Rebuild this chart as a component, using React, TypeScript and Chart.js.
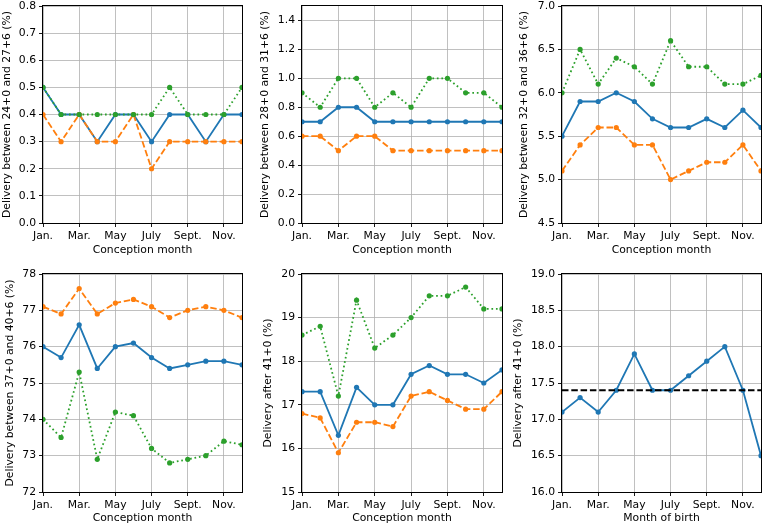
import React, { useEffect, useRef } from 'react';
import { Chart, registerables } from 'chart.js';

Chart.register(...registerables);

// ---------- data ----------
const months = ['Jan', 'Feb', 'Mar', 'Apr', 'May', 'Jun', 'Jul', 'Aug', 'Sep', 'Oct', 'Nov', 'Dec'];
const monthTickLabels = ['Jan.', 'Mar.', 'May', 'July', 'Sept.', 'Nov.'];

const p1Blue = [0.5, 0.4, 0.4, 0.3, 0.4, 0.4, 0.3, 0.4, 0.4, 0.3, 0.4, 0.4];
const p1Orange = [0.4, 0.3, 0.4, 0.3, 0.3, 0.4, 0.2, 0.3, 0.3, 0.3, 0.3, 0.3];
const p1Green = [0.5, 0.4, 0.4, 0.4, 0.4, 0.4, 0.4, 0.5, 0.4, 0.4, 0.4, 0.5];
const p1Ticks = [0.0, 0.1, 0.2, 0.3, 0.4, 0.5, 0.6, 0.7, 0.8];

const p2Blue = [0.7, 0.7, 0.8, 0.8, 0.7, 0.7, 0.7, 0.7, 0.7, 0.7, 0.7, 0.7];
const p2Orange = [0.6, 0.6, 0.5, 0.6, 0.6, 0.5, 0.5, 0.5, 0.5, 0.5, 0.5, 0.5];
const p2Green = [0.9, 0.8, 1.0, 1.0, 0.8, 0.9, 0.8, 1.0, 1.0, 0.9, 0.9, 0.8];
const p2Ticks = [0.0, 0.2, 0.4, 0.6, 0.8, 1.0, 1.2, 1.4];

const p3Blue = [5.5, 5.9, 5.9, 6.0, 5.9, 5.7, 5.6, 5.6, 5.7, 5.6, 5.8, 5.6];
const p3Orange = [5.1, 5.4, 5.6, 5.6, 5.4, 5.4, 5.0, 5.1, 5.2, 5.2, 5.4, 5.1];
const p3Green = [6.0, 6.5, 6.1, 6.4, 6.3, 6.1, 6.6, 6.3, 6.3, 6.1, 6.1, 6.2];
const p3Ticks = [4.5, 5.0, 5.5, 6.0, 6.5, 7.0];

const p4Blue = [76.0, 75.7, 76.6, 75.4, 76.0, 76.1, 75.7, 75.4, 75.5, 75.6, 75.6, 75.5];
const p4Orange = [77.1, 76.9, 77.6, 76.9, 77.2, 77.3, 77.1, 76.8, 77.0, 77.1, 77.0, 76.8];
const p4Green = [74.0, 73.5, 75.3, 72.9, 74.2, 74.1, 73.2, 72.8, 72.9, 73.0, 73.4, 73.3];
const p4Ticks = [72, 73, 74, 75, 76, 77, 78];

const p5Blue = [17.3, 17.3, 16.3, 17.4, 17.0, 17.0, 17.7, 17.9, 17.7, 17.7, 17.5, 17.8];
const p5Orange = [16.8, 16.7, 15.9, 16.6, 16.6, 16.5, 17.2, 17.3, 17.1, 16.9, 16.9, 17.3];
const p5Green = [18.6, 18.8, 17.2, 19.4, 18.3, 18.6, 19.0, 19.5, 19.5, 19.7, 19.2, 19.2];
const p5Ticks = [15, 16, 17, 18, 19, 20];

const p6Blue = [17.1, 17.3, 17.1, 17.4, 17.9, 17.4, 17.4, 17.6, 17.8, 18.0, 17.4, 16.5];
const p6Reference = 17.4;
const p6Ticks = [16.0, 16.5, 17.0, 17.5, 18.0, 18.5, 19.0];

// ---------- styles ----------
const BLUE = '#1f77b4';
const ORANGE = '#ff7f0e';
const GREEN = '#2ca02c';
const GRID = '#b0b0b0';
const FONT_SIZE = 10.8;
const FONT = { family: "'DejaVu Sans', sans-serif", size: FONT_SIZE };
const LH = FONT_SIZE * 1.2;

const AW = 54; // y-axis box width
const PT = 6;
const PR = 4;

const colLeft = [43, 302, 562];
const colWidth = [199, 200, 199];
const rowTop = [6, 274];
const rowHeight = [217, 218];
const rowXH = [40, 34];
const rowXTitleCenter = [27, 26];

type SeriesSpec = { values: number[]; color: string; dash: number[]; points: boolean; width: number; order: number };
type PanelSpec = {
  series: SeriesSpec[];
  yTicks: number[];
  yMin: number;
  yMax: number;
  dec: number;
  yTitle: string;
  xTitle: string;
  row: number;
  col: number;
  yTitleOff: number;
};

const mk = (values: number[], kind: 'blue' | 'orange' | 'green' | 'ref'): SeriesSpec => {
  if (kind === 'blue') return { values, color: BLUE, dash: [], points: true, width: 1.8, order: 2 };
  if (kind === 'orange') return { values, color: ORANGE, dash: [6.5, 2.8], points: true, width: 1.8, order: 1 };
  if (kind === 'green') return { values, color: GREEN, dash: [1.7, 2.8], points: true, width: 1.8, order: 0 };
  return { values, color: '#000', dash: [6.5, 2.8], points: false, width: 1.8, order: -1 };
};

const panels: PanelSpec[] = [
  {
    series: [mk(p1Blue, 'blue'), mk(p1Orange, 'orange'), mk(p1Green, 'green')],
    yTicks: p1Ticks, yMin: 0, yMax: 0.8, dec: 1,
    yTitle: 'Delivery between 24+0 and 27+6 (%)', xTitle: 'Conception month', row: 0, col: 0, yTitleOff: 36,
  },
  {
    series: [mk(p2Blue, 'blue'), mk(p2Orange, 'orange'), mk(p2Green, 'green')],
    yTicks: p2Ticks, yMin: 0, yMax: 1.5, dec: 1,
    yTitle: 'Delivery between 28+0 and 31+6 (%)', xTitle: 'Conception month', row: 0, col: 1, yTitleOff: 37,
  },
  {
    series: [mk(p3Blue, 'blue'), mk(p3Orange, 'orange'), mk(p3Green, 'green')],
    yTicks: p3Ticks, yMin: 4.5, yMax: 7.0, dec: 1,
    yTitle: 'Delivery between 32+0 and 36+6 (%)', xTitle: 'Conception month', row: 0, col: 2, yTitleOff: 38,
  },
  {
    series: [mk(p4Blue, 'blue'), mk(p4Orange, 'orange'), mk(p4Green, 'green')],
    yTicks: p4Ticks, yMin: 72, yMax: 78, dec: 0,
    yTitle: 'Delivery between 37+0 and 40+6 (%)', xTitle: 'Conception month', row: 1, col: 0, yTitleOff: 33,
  },
  {
    series: [mk(p5Blue, 'blue'), mk(p5Orange, 'orange'), mk(p5Green, 'green')],
    yTicks: p5Ticks, yMin: 15, yMax: 20, dec: 0,
    yTitle: 'Delivery after 41+0 (%)', xTitle: 'Conception month', row: 1, col: 1, yTitleOff: 34,
  },
  {
    series: [mk(p6Blue, 'blue'), mk(months.map(() => p6Reference), 'ref')],
    yTicks: p6Ticks, yMin: 16, yMax: 19, dec: 1,
    yTitle: 'Delivery after 41+0 (%)', xTitle: 'Month of birth', row: 1, col: 2, yTitleOff: 44,
  },
];

const framePlugin = {
  id: 'frame',
  afterDatasetsDraw(chart: any) {
    const { ctx, chartArea: a } = chart;
    ctx.save();
    ctx.strokeStyle = '#000';
    ctx.lineWidth = 1;
    ctx.strokeRect(a.left - 0.5, a.top - 0.5, a.right - a.left + 1, a.bottom - a.top + 1);
    ctx.restore();
  },
};

function Panel({ spec }: { spec: PanelSpec }) {
  const ref = useRef<HTMLCanvasElement>(null);
  const XH = rowXH[spec.row];
  const plotW = colWidth[spec.col];
  const plotH = rowHeight[spec.row];
  const width = AW + plotW + PR;
  const height = PT + plotH + XH;
  const left = colLeft[spec.col] - AW;
  const top = rowTop[spec.row] - PT;

  useEffect(() => {
    if (!ref.current) return;
    const datasets = spec.series.map((s) => ({
      data: s.values,
      borderColor: s.color,
      backgroundColor: s.color,
      borderWidth: s.width,
      borderDash: s.dash,
      borderCapStyle: 'butt' as const,
      pointRadius: s.points ? 2.6 : 0,
      pointBorderWidth: 0,
      pointBackgroundColor: s.color,
      tension: 0,
      fill: false,
      clip: 0,
      order: s.order,
    }));
    const xTitlePad = XH - LH / 2 - rowXTitleCenter[spec.row];
    const yTitlePad = AW - spec.yTitleOff - LH / 2;
    const gridOpts = { color: GRID, lineWidth: 0.8, tickColor: '#000', tickLength: 4, tickWidth: 0.9 };
    const chart = new Chart(ref.current, {
      type: 'line',
      data: { labels: months, datasets },
      options: {
        responsive: false,
        maintainAspectRatio: false,
        animation: false,
        devicePixelRatio: 1,
        events: [],
        layout: { padding: { top: PT, right: PR, left: 0, bottom: 0 } },
        plugins: { legend: { display: false }, tooltip: { enabled: false } },
        scales: {
          x: {
            type: 'category',
            offset: false,
            grid: gridOpts,
            border: { display: false },
            ticks: {
              autoSkip: false,
              maxRotation: 0,
              minRotation: 0,
              padding: 3,
              color: '#000',
              font: FONT,
              callback: (_v: any, i: number) => monthTickLabels[i],
            },
            afterBuildTicks: (sc: any) => {
              sc.ticks = sc.ticks.filter((t: any) => t.value % 2 === 0);
            },
            afterFit: (sc: any) => {
              sc.height = XH;
              sc.paddingLeft = 0;
              sc.paddingRight = 0;
            },
            title: {
              display: true,
              text: spec.xTitle,
              color: '#000',
              font: FONT,
              padding: { top: 0, bottom: xTitlePad },
            },
          },
          y: {
            type: 'linear',
            min: spec.yMin,
            max: spec.yMax,
            grid: gridOpts,
            border: { display: false },
            afterBuildTicks: (sc: any) => {
              sc.ticks = spec.yTicks.map((v) => ({ value: v }));
            },
            ticks: {
              padding: 3,
              color: '#000',
              font: FONT,
              callback: (v: any) => Number(v).toFixed(spec.dec),
            },
            afterFit: (sc: any) => {
              sc.width = AW;
              sc.paddingTop = 0;
              sc.paddingBottom = 0;
            },
            title: {
              display: true,
              text: spec.yTitle,
              color: '#000',
              font: FONT,
              padding: { top: yTitlePad, bottom: 0 },
            },
          },
        },
      } as any,
      plugins: [framePlugin],
    });
    return () => chart.destroy();
  }, []);

  return (
    <canvas
      ref={ref}
      width={width}
      height={height}
      style={{ position: 'absolute', left, top, width, height }}
    />
  );
}

export default function App() {
  return (
    <div
      style={{
        position: 'absolute',
        left: 0,
        top: 0,
        width: 763,
        height: 526,
        overflow: 'hidden',
        background: '#fff',
      }}
    >
      {panels.map((p, i) => (
        <Panel key={i} spec={p} />
      ))}
    </div>
  );
}
